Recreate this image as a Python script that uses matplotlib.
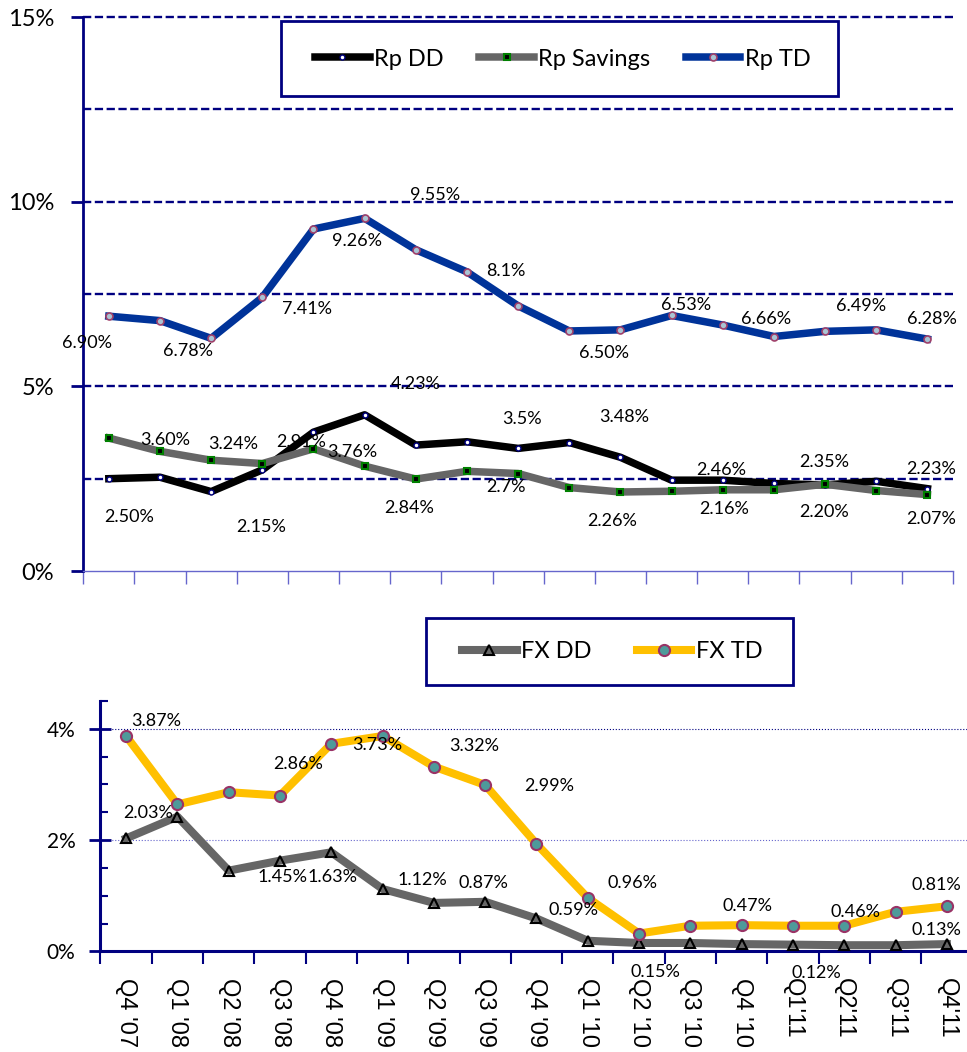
import matplotlib
matplotlib.use('Agg')
import matplotlib.pyplot as plt
from matplotlib.patches import Rectangle
import numpy as np

plt.rcParams['font.family'] = ['Lato', 'DejaVu Sans']

quarters = ["Q4 '07", "Q1 '08", "Q2 '08", "Q3 '08", "Q4 '08", "Q1 '09", "Q2 '09",
            "Q3 '09", "Q4 '09", "Q1 '10", "Q2 '10", "Q3 '10", "Q4 '10",
            "Q1'11", "Q2'11", "Q3'11", "Q4'11"]

# Rupiah rates (%)
rp_dd = [2.50, 2.54, 2.15, 2.74, 3.76, 4.23, 3.41, 3.50, 3.32, 3.48, 3.08,
         2.46, 2.46, 2.37, 2.33, 2.43, 2.23]
rp_savings = [3.60, 3.24, 3.00, 2.91, 3.31, 2.84, 2.49, 2.70, 2.64, 2.26, 2.14,
              2.16, 2.20, 2.20, 2.35, 2.18, 2.07]
rp_td = [6.90, 6.78, 6.30, 7.41, 9.26, 9.55, 8.70, 8.10, 7.18, 6.50, 6.53,
         6.92, 6.66, 6.35, 6.49, 6.53, 6.28]

# FX rates (%)
fx_dd = [2.03, 2.42, 1.45, 1.63, 1.78, 1.12, 0.87, 0.89, 0.59, 0.19, 0.15,
         0.15, 0.13, 0.12, 0.11, 0.11, 0.13]
fx_td = [3.87, 2.64, 2.86, 2.80, 3.73, 3.87, 3.32, 2.99, 1.93, 0.96, 0.32,
         0.46, 0.47, 0.46, 0.46, 0.71, 0.81]

# data label text and where it sits (x in category units, y in %)
top_labels = [
    ("6.90%", -0.43, 6.18), ("6.78%", 1.54, 5.96), ("7.41%", 3.88, 7.10),
    ("9.26%", 4.85, 8.94), ("9.55%", 6.38, 10.19), ("8.1%", 7.76, 8.13),
    ("6.50%", 9.67, 5.91), ("6.53%", 11.29, 7.21), ("6.66%", 12.85, 6.83),
    ("6.49%", 14.70, 7.18), ("6.28%", 16.08, 6.83),
    ("3.60%", 1.11, 3.55), ("3.24%", 2.43, 3.43), ("2.91%", 3.76, 3.50),
    ("3.76%", 4.76, 3.23), ("4.23%", 6.00, 5.07), ("2.84%", 5.87, 1.72),
    ("2.50%", 0.40, 1.47), ("2.15%", 2.98, 1.18), ("3.5%", 8.07, 4.11),
    ("3.48%", 10.08, 4.18), ("2.7%", 7.76, 2.28), ("2.26%", 9.83, 1.36),
    ("2.46%", 11.97, 2.74), ("2.16%", 12.03, 1.69), ("2.35%", 13.98, 2.96),
    ("2.20%", 13.98, 1.59), ("2.23%", 16.08, 2.77), ("2.07%", 16.08, 1.40),
]
bottom_labels = [
    ("3.87%", 0.58, 4.14), ("2.86%", 3.35, 3.37), ("3.73%", 4.89, 3.70),
    ("3.32%", 6.78, 3.69), ("2.99%", 8.24, 2.97), ("0.96%", 9.88, 1.23),
    ("0.47%", 12.12, 0.82), ("0.46%", 14.21, 0.71), ("0.81%", 15.80, 1.20),
    ("2.03%", 0.42, 2.49), ("1.45%", 3.04, 1.34), ("1.63%", 4.03, 1.34),
    ("1.12%", 5.77, 1.28), ("0.87%", 6.97, 1.23), ("0.59%", 8.73, 0.75),
    ("0.15%", 10.32, -0.37), ("0.12%", 13.46, -0.39), ("0.13%", 15.80, 0.38),
]

navy = '#000080'
x = np.arange(len(quarters))
edges = np.arange(len(quarters) + 1) - 0.5

fig = plt.figure(figsize=(9.67, 10.52), dpi=100)

# ---- Rupiah panel ----
ax1 = fig.add_axes([0.0861, 0.4572, 0.8994, 0.5266])
ax1.plot(x, rp_dd, color='black', lw=5.4, marker='o', ms=3.5, mfc='white',
         mec=navy, mew=1, label='Rp DD', zorder=3)
ax1.plot(x, rp_savings, color='#666666', lw=5.4, marker='s', ms=4.5, mfc='black',
         mec='#008000', mew=1.5, label='Rp Savings', zorder=3)
ax1.plot(x, rp_td, color='#003399', lw=5.4, marker='o', ms=5, mfc='#a9c4d4',
         mec='#a0406a', mew=1.2, label='Rp TD', zorder=3)

ax1.set_xlim(-0.5, len(quarters) - 0.5)
ax1.set_ylim(0, 15)
ax1.set_yticks([0, 5, 10, 15])
ax1.set_yticklabels(['0%', '5%', '10%', '15%'], fontsize=17)
ax1.set_yticks([2.5, 7.5, 12.5], minor=True)
ax1.set_xticks(edges)
ax1.set_xticklabels([])
ax1.tick_params(axis='y', which='major', length=9, width=2, color=navy, pad=12)
ax1.tick_params(axis='y', which='minor', length=0)
ax1.tick_params(axis='x', length=9, width=1, color='#6666cc')
ax1.grid(axis='y', which='both', color=navy, lw=1.7, linestyle=(0, (3.5, 1.5)))
for gl in ax1.get_ygridlines():
    gl.set_clip_on(False)
ax1.get_ygridlines()[0].set_visible(False)
ax1.set_axisbelow(True)
for s in ['top', 'right']:
    ax1.spines[s].set_visible(False)
ax1.spines['left'].set_color(navy)
ax1.spines['left'].set_linewidth(2)
ax1.spines['bottom'].set_color('#6666cc')
ax1.spines['bottom'].set_linewidth(1)

ax1.add_patch(Rectangle((0.227, 0.8567), 0.641, 0.1353, transform=ax1.transAxes,
                        facecolor='white', edgecolor=navy, lw=2, zorder=5))
leg1 = ax1.legend(loc='center', bbox_to_anchor=(0.5516, 0.924), ncol=3, fontsize=17,
                  frameon=False, handlelength=2.3, handletextpad=0.2,
                  columnspacing=1.5, borderaxespad=0)
leg1.set_zorder(6)

for txt, tx, ty in top_labels:
    ax1.text(tx, ty, txt, fontsize=13, ha='center', va='center', zorder=4)

# ---- FX panel ----
ax2 = fig.add_axes([0.1039, 0.0957, 0.9018, 0.238])
ax2.plot(x, fx_dd, color='#666666', lw=5.8, marker='^', ms=6.5, mfc='none',
         mec='black', mew=1.5, label='FX DD', zorder=3)
ax2.plot(x, fx_td, color='#FFC000', lw=5.8, marker='o', ms=8, mfc='#4e9a9a',
         mec='#993366', mew=1.5, label='FX TD', zorder=3)

ax2.set_xlim(-0.5, len(quarters) - 0.5)
ax2.set_ylim(0, 4.5)
ax2.set_yticks([0, 2, 4])
ax2.set_yticklabels(['0%', '2%', '4%'], fontsize=15)
ax2.set_yticks(np.arange(0, 4.51, 0.5), minor=True)
ax2.tick_params(axis='y', which='major', direction='inout', length=16, width=2,
                color=navy, pad=10)
ax2.tick_params(axis='y', which='minor', direction='in', length=6, width=1.5,
                color=navy)
ax2.set_xticks(x)
ax2.set_xticklabels(quarters, rotation=270, fontsize=17, ha='center', va='top',
                    family=['Liberation Sans', 'DejaVu Sans'])
ax2.set_xticks(edges, minor=True)
ax2.tick_params(axis='x', which='major', length=0, pad=19)
ax2.tick_params(axis='x', which='minor', length=9, width=1.5, color=navy)
ax2.grid(axis='y', which='major', color=navy, lw=0.8, linestyle=':')
ax2.get_ygridlines()[1].set_color('#6666cc')
ax2.set_axisbelow(True)
for s in ['top', 'right']:
    ax2.spines[s].set_visible(False)
for s in ['left', 'bottom']:
    ax2.spines[s].set_color(navy)
    ax2.spines[s].set_linewidth(2.2)

ax2.add_patch(Rectangle((0.373, 1.062), 0.421, 0.269, transform=ax2.transAxes,
                        facecolor='white', edgecolor=navy, lw=2, zorder=5,
                        clip_on=False))
leg2 = ax2.legend(loc='center', bbox_to_anchor=(0.587, 1.196), ncol=2, fontsize=17,
                  frameon=False, handlelength=2.3, handletextpad=0.2,
                  columnspacing=1.9, borderaxespad=0)
leg2.set_zorder(6)

for txt, tx, ty in bottom_labels:
    ax2.text(tx, ty, txt, fontsize=13, ha='center', va='center', zorder=4,
             clip_on=False)

fig.savefig('out.png', dpi=100)
